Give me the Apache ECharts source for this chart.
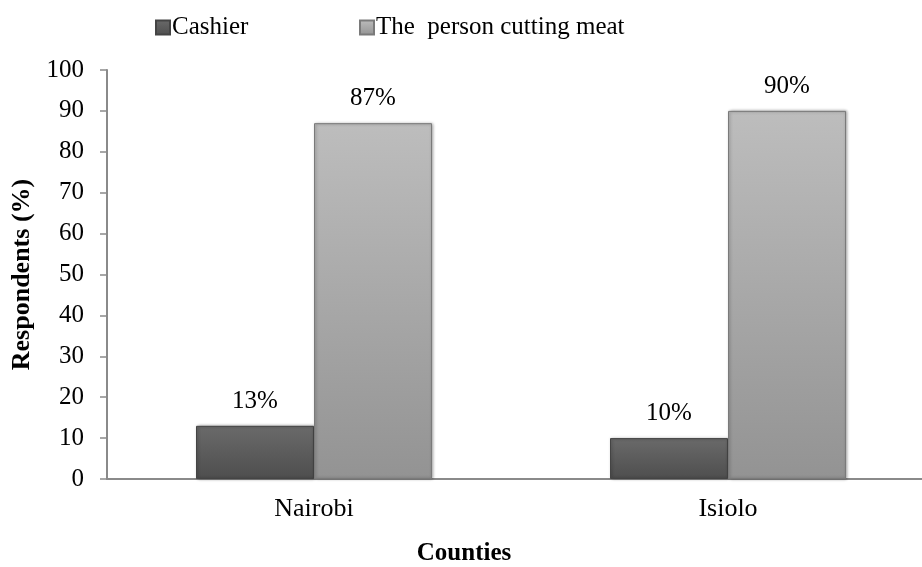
<!DOCTYPE html>
<html>
<head>
<meta charset="utf-8">
<script src="https://cdn.jsdelivr.net/npm/echarts@6/dist/echarts.min.js"></script>
<style>
  html, body { margin: 0; padding: 0; background: #fff; }
  #chart { width: 922px; height: 567px; }
</style>
</head>
<body>
<div id="chart"></div>
<script>
// data
const counties = ['Nairobi', 'Isiolo'];
const cashier = [13, 10];
const cutter = [87, 90];
const yTicks = [0, 10, 20, 30, 40, 50, 60, 70, 80, 90, 100];

const font = '"Liberation Serif", "Times New Roman", serif';

function grad(top, bottom) {
    return new echarts.graphic.LinearGradient(0, 0, 0, 1, [
        { offset: 0, color: top },
        { offset: 1, color: bottom }
    ]);
}

const chart = echarts.init(document.getElementById('chart'));

let option = {
    animation: false,
    title: {
        text: 'Counties',
        left: 459,
        top: 536,
        textAlign: 'center',
        textStyle: { fontFamily: font, fontSize: 25, fontWeight: 'bold', color: '#000' }
    },
    legend: [{
        data: ['Cashier'],
        left: 150,
        top: 10,
        icon: 'rect',
        itemWidth: 14,
        itemHeight: 14,
        textStyle: { fontFamily: font, fontSize: 25, color: '#000', padding: [0, 0, 0, -3] }
    }, {
        data: ['The  person cutting meat'],
        left: 354,
        top: 10,
        icon: 'rect',
        itemWidth: 14,
        itemHeight: 14,
        textStyle: { fontFamily: font, fontSize: 25, color: '#000', padding: [0, 0, 0, -3] }
    }],
    grid: {
        left: 107,
        top: 70,
        width: 828,
        height: 409,
        outerBoundsMode: 'none'
    },
    xAxis: {
        type: 'category',
        data: counties,
        axisLine: { lineStyle: { color: '#8a8a8a', width: 2 } },
        axisTick: { show: false },
        axisLabel: { fontFamily: font, fontSize: 26, color: '#000', margin: 17 }
    },
    yAxis: {
        type: 'value',
        min: yTicks[0],
        max: yTicks[yTicks.length - 1],
        interval: 10,
        name: 'Respondents (%)',
        nameLocation: 'middle',
        nameGap: 72,
        nameTextStyle: { fontFamily: font, fontSize: 26, fontWeight: 'bold', color: '#000' },
        axisLine: { show: true, lineStyle: { color: '#8a8a8a', width: 2 } },
        axisTick: { show: true, length: 7, lineStyle: { color: '#8a8a8a', width: 1.5 } },
        axisLabel: { fontFamily: font, fontSize: 25, color: '#000', margin: 23 },
        splitLine: { show: false }
    },
    series: [{
        name: 'Cashier',
        type: 'bar',
        data: cashier,
        barWidth: 118,
        barGap: '0%',
        itemStyle: {
            color: grad('#6a6a6a', '#4e4e4e'),
            borderColor: '#444',
            borderWidth: 1,
            shadowColor: 'rgba(0,0,0,0.35)',
            shadowBlur: 3,
            shadowOffsetX: 1
        },
        label: {
            show: true,
            position: 'top',
            distance: 12,
            formatter: '{c}%',
            fontFamily: font,
            fontSize: 25,
            color: '#000'
        }
    }, {
        name: 'The  person cutting meat',
        type: 'bar',
        data: cutter,
        barWidth: 118,
        barGap: '0%',
        itemStyle: {
            color: grad('#bdbdbd', '#939393'),
            borderColor: '#7a7a7a',
            borderWidth: 1,
            shadowColor: 'rgba(0,0,0,0.35)',
            shadowBlur: 3,
            shadowOffsetX: 1
        },
        label: {
            show: true,
            position: 'top',
            distance: 12,
            formatter: '{c}%',
            fontFamily: font,
            fontSize: 25,
            color: '#000'
        }
    }]
};

chart.setOption(option);
</script>
</body>
</html>
